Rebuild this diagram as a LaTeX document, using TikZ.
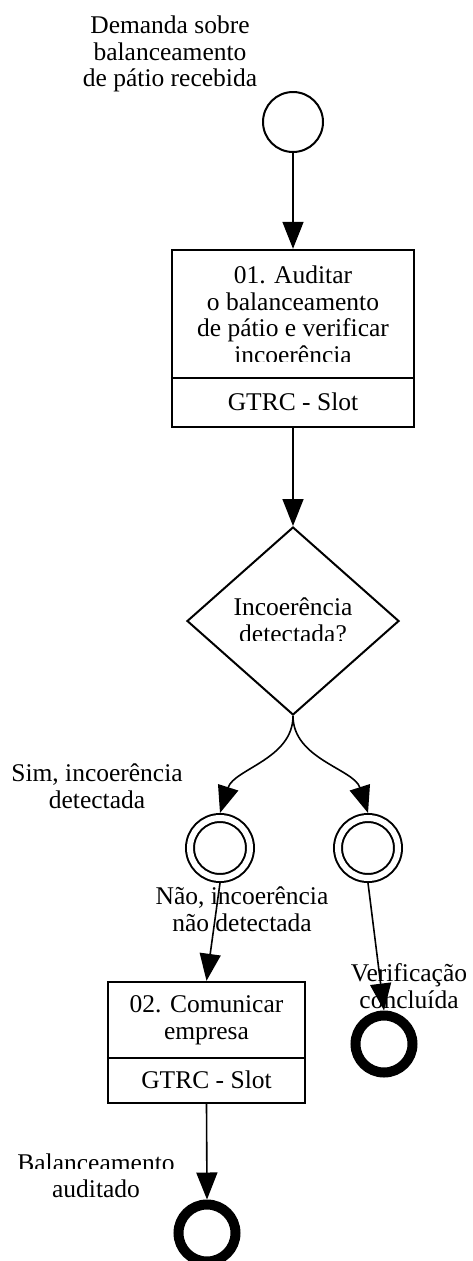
\documentclass[tikz,border=0pt]{standalone}
\usepackage{fontspec}
\setmainfont{Liberation Serif}
\usetikzlibrary{arrows.meta,shapes.geometric}
\begin{document}
\begin{tikzpicture}[x=1pt,y=-1pt,
  lbl/.style={inner sep=0pt, align=center, font=\fontsize{25.5}{26.5}\selectfont},
  flow/.style={line width=1.6pt, -{Triangle[length=27pt,width=21pt]}},
  taskbox/.style={draw, line width=2.4pt, rectangle, inner sep=0pt},
  startev/.style={draw, circle, line width=2pt, minimum size=60pt, inner sep=0pt},
  midev/.style={draw, circle, line width=2pt, double, double distance=6pt, minimum size=60pt, inner sep=0pt, outer sep=5pt},
  endev/.style={draw, circle, line width=10pt, minimum size=57pt, inner sep=0pt},
  gate/.style={draw, diamond, line width=2pt, minimum width=212pt, minimum height=188pt, inner sep=0pt}
]
\useasboundingbox (0,0) rectangle (472,1261);

% nodes
\node[startev] (start) at (293,122) {};
\node[taskbox, minimum width=242pt, minimum height=177pt] (t1) at (293,338.5) {};
\node[gate] (gw) at (293,621) {};
\node[midev] (e1) at (220,848) {};
\node[midev] (e2) at (368,848) {};
\node[taskbox, minimum width=197pt, minimum height=121pt] (t2) at (206.5,1042.5) {};
\node[endev] (end1) at (384,1044) {};
\node[endev] (end2) at (207,1233) {};

% dividers
\draw[line width=2.4pt] ([yshift=50pt]t1.south west) -- ([yshift=50pt]t1.south east);
\draw[line width=2.4pt] ([yshift=46pt]t2.south west) -- ([yshift=46pt]t2.south east);

% labels
\node[lbl] (lstart) at (170,54) {Demanda sobre\\balanceamento\\de pátio recebida};
\begin{scope}
  \clip (172,250) rectangle (414,361);
  \node[lbl] (t1txt) at (293,315) {01. Auditar\\o balanceamento\\de pátio e verificar\\incoerência};
\end{scope}
\node[lbl] (t1lane) at (293,402) {GTRC - Slot};
\begin{scope}
  \clip (187,527) rectangle (398,640);
  \node[lbl] (gwtxt) at (293,620.5) {Incoerência\\detectada?};
\end{scope}
\node[lbl] (lsim) at (97,786) {Sim, incoerência\\detectada};
\node[lbl] (lnao) at (242,909) {Não, incoerência\\não detectada};
\node[lbl] (t2txt) at (206.5,1020) {02. Comunicar\\empresa};
\node[lbl] (t2lane) at (206.5,1080) {GTRC - Slot};
\node[lbl] (lverif) at (409,986) {Verificação\\concluída};
\begin{scope}
  \clip (0,1140) rectangle (200,1168) (0,1178) rectangle (200,1215);
  \node[lbl] (lbal) at (96,1176) {Balanceamento\\auditado};
\end{scope}

% connectors
\draw[flow] (start.south) -- (t1.north);
\draw[flow] (t1.south) -- (gw.north);
\draw[flow] (gw.south) .. controls +(0,43) and +(14,-44) .. (e1.north);
\draw[flow] (gw.south) .. controls +(0,43) and +(-14,-44) .. (e2.north);
\draw[flow] (e1.south) -- (t2.north);
\draw[flow] (e2.south) -- (end1.north);
\draw[flow] (t2.south) -- (end2.north);
\end{tikzpicture}
\end{document}
